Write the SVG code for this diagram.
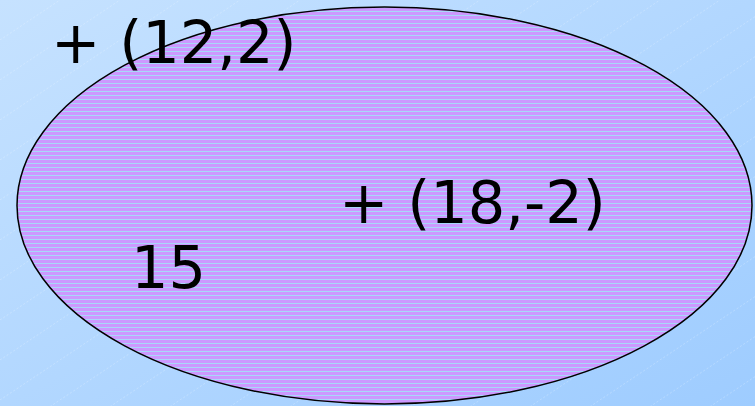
<svg xmlns="http://www.w3.org/2000/svg" width="755" height="406" viewBox="0 0 755 406">
<defs>
<linearGradient id="bg" x1="0" y1="0" x2="1" y2="1">
<stop offset="0" stop-color="#C6E2FF"/>
<stop offset="1" stop-color="#9ECCFF"/>
</linearGradient>
<pattern id="diag" width="60" height="40" patternUnits="userSpaceOnUse">
<line x1="0" y1="40" x2="60" y2="0" stroke="#ffffff" stroke-opacity="0.3" stroke-width="0.8" stroke-dasharray="2 2"/>
</pattern>
<pattern id="stripes" width="10" height="4" patternUnits="userSpaceOnUse">
<rect width="10" height="4" fill="#CC99FF"/>
<rect y="3" width="10" height="1" fill="#A8D8F8"/>
</pattern>
<style>
.t{font-family:"DejaVu Sans",Verdana,sans-serif;font-size:59px;fill:#000}
</style>
</defs>
<rect width="755" height="406" fill="url(#bg)"/>
<rect width="755" height="406" fill="url(#diag)"/>
<g id="ellipse">
<ellipse cx="384.5" cy="205.5" rx="367.5" ry="198.5" fill="url(#stripes)" stroke="#000" stroke-width="1.5"/>
</g>
<g id="label1"><text class="t" x="51" y="63">+ (12,2)</text></g>
<g id="label2"><text class="t" x="339" y="223">+ (18,-2)</text></g>
<g id="label3"><text class="t" x="131" y="288">15</text></g>
</svg>
